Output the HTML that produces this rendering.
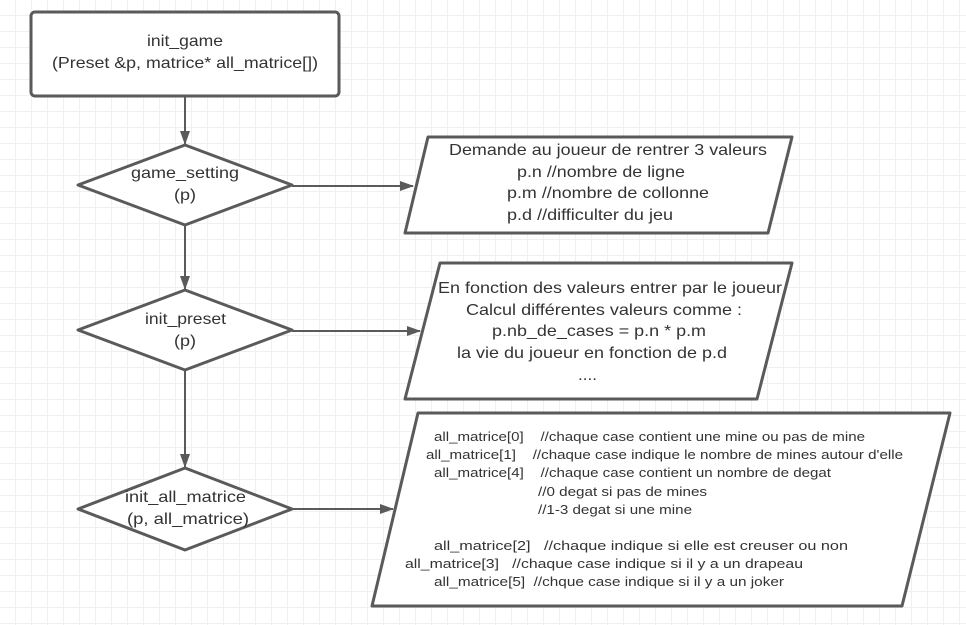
<!DOCTYPE html>
<html><head><meta charset="utf-8"><style>
html,body{margin:0;padding:0;background:#fff;}
body{width:966px;height:625px;overflow:hidden;
background-image:linear-gradient(#f0f0f0 1px,transparent 1px),linear-gradient(90deg,#f0f0f0 1px,transparent 1px);
background-size:16px 16px;background-position:-1px -1px;}
svg{position:absolute;left:0;top:0;}
text{font-family:"Liberation Sans",Arial,sans-serif;fill:#333;white-space:pre;}
</style></head><body>
<svg width="966" height="625" viewBox="0 0 966 625" xml:space="preserve">
<defs><marker id="a" markerWidth="14" markerHeight="10" refX="13" refY="5" orient="auto" markerUnits="userSpaceOnUse"><path d="M0,0 L14,5 L0,10 z" fill="#5a5a5a"/></marker></defs>
<g stroke="#5a5a5a" stroke-width="3" fill="#fff" stroke-linejoin="round">
<rect x="31" y="12" width="308" height="84" rx="4"/>
<polygon points="185,145 292,185 185,225 78,185"/>
<polygon points="185,290 292,330 185,370 78,330"/>
<polygon points="185,468 292,509 185,550 78,509"/>
<polygon points="428,137 792,137 768,233 405,233"/>
<polygon points="440,263 792,263 757,399 405,399"/>
<polygon points="418,413 950,413 902,606 372,606"/>
</g>
<g stroke="#5a5a5a" stroke-width="2" fill="none">
<line x1="185" y1="97" x2="185" y2="144" marker-end="url(#a)"/>
<line x1="185" y1="226" x2="185" y2="289" marker-end="url(#a)"/>
<line x1="185" y1="371" x2="185" y2="467" marker-end="url(#a)"/>
<line x1="292" y1="186" x2="413" y2="186" marker-end="url(#a)"/>
<line x1="292" y1="331" x2="420" y2="331" marker-end="url(#a)"/>
<line x1="292" y1="509" x2="393" y2="509" marker-end="url(#a)"/>
</g>
<g font-size="16">
<text x="147" y="46" textLength="76" lengthAdjust="spacingAndGlyphs">init_game</text>
<text x="52" y="68" textLength="266" lengthAdjust="spacingAndGlyphs">(Preset &amp;p, matrice* all_matrice[])</text>
<text x="131" y="178" textLength="108" lengthAdjust="spacingAndGlyphs">game_setting</text>
<text x="174" y="200" textLength="22" lengthAdjust="spacingAndGlyphs">(p)</text>
<text x="145" y="324" textLength="81" lengthAdjust="spacingAndGlyphs">init_preset</text>
<text x="174" y="346" textLength="22" lengthAdjust="spacingAndGlyphs">(p)</text>
<text x="125" y="502" textLength="121" lengthAdjust="spacingAndGlyphs">init_all_matrice</text>
<text x="127" y="524" textLength="122" lengthAdjust="spacingAndGlyphs">(p, all_matrice)</text>
<text x="449" y="155" textLength="318" lengthAdjust="spacingAndGlyphs">Demande au joueur de rentrer 3 valeurs</text>
<text x="517" y="177" textLength="168" lengthAdjust="spacingAndGlyphs">p.n //nombre de ligne</text>
<text x="507" y="198" textLength="202" lengthAdjust="spacingAndGlyphs">p.m //nombre de collonne</text>
<text x="507" y="220" textLength="166" lengthAdjust="spacingAndGlyphs">p.d //difficulter du jeu</text>
<text x="438" y="293" textLength="344" lengthAdjust="spacingAndGlyphs">En fonction des valeurs entrer par le joueur</text>
<text x="466" y="315" textLength="276" lengthAdjust="spacingAndGlyphs">Calcul différentes valeurs comme :</text>
<text x="492" y="336" textLength="214" lengthAdjust="spacingAndGlyphs">p.nb_de_cases = p.n * p.m</text>
<text x="457" y="358" textLength="270" lengthAdjust="spacingAndGlyphs">la vie du joueur en fonction de p.d</text>
<text x="578" y="380" textLength="19" lengthAdjust="spacingAndGlyphs">....</text>
</g>
<g font-size="13">
<text x="434" y="441" textLength="431" lengthAdjust="spacingAndGlyphs">all_matrice[0]    //chaque case contient une mine ou pas de mine</text>
<text x="426" y="459" textLength="477" lengthAdjust="spacingAndGlyphs">all_matrice[1]    //chaque case indique le nombre de mines autour d'elle</text>
<text x="434" y="477" textLength="397" lengthAdjust="spacingAndGlyphs">all_matrice[4]    //chaque case contient un nombre de degat</text>
<text x="538" y="496" textLength="169" lengthAdjust="spacingAndGlyphs">//0 degat si pas de mines</text>
<text x="538" y="514" textLength="154" lengthAdjust="spacingAndGlyphs">//1-3 degat si une mine</text>
<text x="434" y="550" textLength="414" lengthAdjust="spacingAndGlyphs">all_matrice[2]   //chaque indique si elle est creuser ou non</text>
<text x="405" y="568" textLength="398" lengthAdjust="spacingAndGlyphs">all_matrice[3]   //chaque case indique si il y a un drapeau</text>
<text x="434" y="586" textLength="350" lengthAdjust="spacingAndGlyphs">all_matrice[5]  //chque case indique si il y a un joker</text>
</g>
</svg>
</body></html>
